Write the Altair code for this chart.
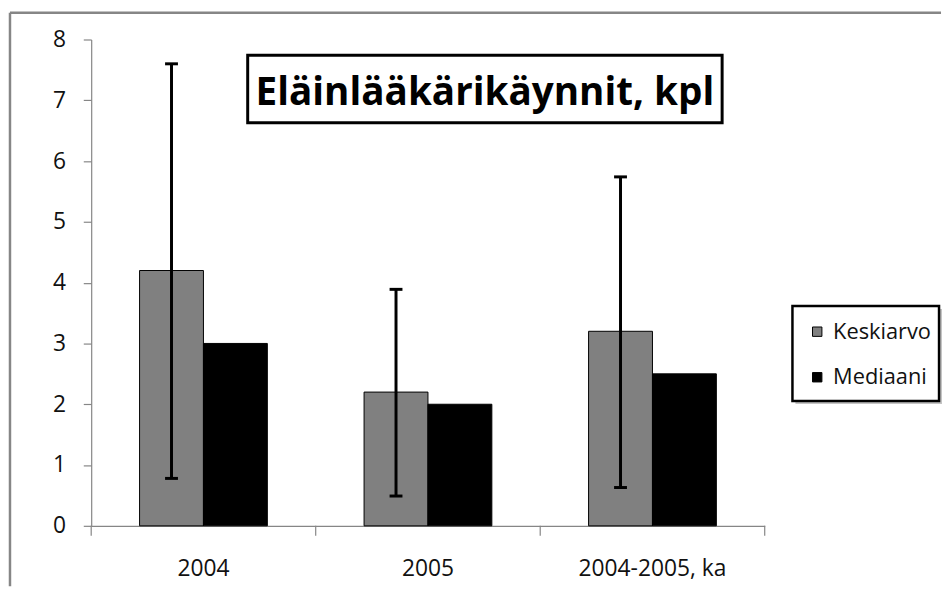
import altair as alt
import pandas as pd

categories = ["2004", "2005", "2004-2005, ka"]
series = ["Keskiarvo", "Mediaani"]
keskiarvo = [4.2, 2.2, 3.2]
mediaani = [3.0, 2.0, 2.5]
err_low = [0.78, 0.49, 0.63]
err_high = [7.6, 3.89, 5.74]
y_ticks = [0, 1, 2, 3, 4, 5, 6, 7, 8]
series_colors = ["#808080", "#000000"]
title_text = "Eläinlääkärikäynnit, kpl"

bars_df = pd.DataFrame({
    "cat": categories * 2,
    "series": [series[0]] * 3 + [series[1]] * 3,
    "value": keskiarvo + mediaani,
})
err_df = pd.DataFrame({
    "cat": categories,
    "series": [series[0]] * 3,
    "low": err_low,
    "high": err_high,
})
cat_df = pd.DataFrame({"cat": categories})
one = pd.DataFrame({"t": [title_text]})

W, H = 680, 491
FONT = "Open Sans"
GREY = "#868686"

x_scale = alt.Scale(domain=categories, paddingInner=0, paddingOuter=0)
xo_scale = alt.Scale(domain=series, paddingInner=0, paddingOuter=0.757)
y_scale = alt.Scale(domain=[0, 8], nice=False)

x_enc = alt.X("cat:N", sort=categories, scale=x_scale,
              axis=alt.Axis(title=None, labelAngle=0, ticks=False, domainColor=GREY,
                            domainWidth=1.2, labelFont=FONT, labelFontSize=23,
                            labelColor="#111111", labelPadding=32))
xo_enc = alt.XOffset("series:N", sort=series, scale=xo_scale)

frame_top = alt.Chart(one).mark_rule(color=GREY, strokeWidth=2.5).encode(
    x=alt.value(-82), x2=alt.value(858), y=alt.value(-27))
frame_left = alt.Chart(one).mark_rule(color=GREY, strokeWidth=2.5).encode(
    x=alt.value(-82), y=alt.value(-27), y2=alt.value(552))

bars = alt.Chart(bars_df).mark_bar(stroke="black", strokeWidth=1).encode(
    x=x_enc,
    xOffset=xo_enc,
    y=alt.Y("value:Q", scale=y_scale,
            axis=alt.Axis(title=None, values=y_ticks, tickSize=8, tickColor=GREY,
                          domainColor=GREY, domainWidth=1.2, tickWidth=1.2,
                          labelPadding=18, labelFont=FONT, labelFontSize=23,
                          labelColor="#111111", grid=False, format="d")),
    color=alt.Color("series:N", sort=series,
                    scale=alt.Scale(domain=series, range=series_colors),
                    legend=alt.Legend(orient="none", legendX=722, legendY=284, title=None,
                                      symbolType="square", symbolSize=90,
                                      symbolStrokeColor="black", symbolStrokeWidth=1,
                                      labelFont=FONT, labelFontSize=22, labelColor="#111111",
                                      labelOffset=5, rowPadding=24, padding=0)),
)

x_ticks = alt.Chart(cat_df).mark_rule(color=GREY, strokeWidth=1.2).encode(
    x=alt.X("cat:N", sort=categories, scale=x_scale, bandPosition=0),
    y=alt.value(H), y2=alt.value(H + 10))
x_tick_end = alt.Chart(one).mark_rule(color=GREY, strokeWidth=1.2).encode(
    x=alt.value(W), y=alt.value(H), y2=alt.value(H + 10))

err_rule = alt.Chart(err_df).mark_rule(color="black", strokeWidth=3).encode(
    x=alt.X("cat:N", sort=categories, scale=x_scale), xOffset=xo_enc,
    y=alt.Y("low:Q", scale=y_scale), y2="high:Q")
cap_low = alt.Chart(err_df).mark_tick(color="black", size=13, thickness=3, opacity=1).encode(
    x=alt.X("cat:N", sort=categories, scale=x_scale), xOffset=xo_enc,
    y=alt.Y("low:Q", scale=y_scale))
cap_high = alt.Chart(err_df).mark_tick(color="black", size=13, thickness=3, opacity=1).encode(
    x=alt.X("cat:N", sort=categories, scale=x_scale), xOffset=xo_enc,
    y=alt.Y("high:Q", scale=y_scale))

title_box = alt.Chart(one).mark_rect(fill="white", stroke="black", strokeWidth=3).encode(
    x=alt.value(158), x2=alt.value(637), y=alt.value(16), y2=alt.value(84))
title_txt = alt.Chart(one).mark_text(font=FONT, fontSize=39, fontWeight="bold", color="black",
                                     align="center", baseline="alphabetic").encode(
    x=alt.value(397.5), y=alt.value(66), text="t:N")

legend_shadow = alt.Chart(one).mark_rect(fill="#c4c4c4").encode(
    x=alt.value(711), x2=alt.value(859), y=alt.value(272), y2=alt.value(368))
legend_box = alt.Chart(one).mark_rect(fill="white", stroke="black", strokeWidth=2.5).encode(
    x=alt.value(708), x2=alt.value(856), y=alt.value(269), y2=alt.value(365))

chart = alt.layer(
    frame_top, frame_left, legend_shadow, legend_box,
    bars, x_ticks, x_tick_end, err_rule, cap_low, cap_high, title_box, title_txt,
).properties(width=W, height=H, padding=0, background="white").configure_view(stroke=None)

chart.save("out.html", embed_options={"renderer": "svg", "actions": False})
